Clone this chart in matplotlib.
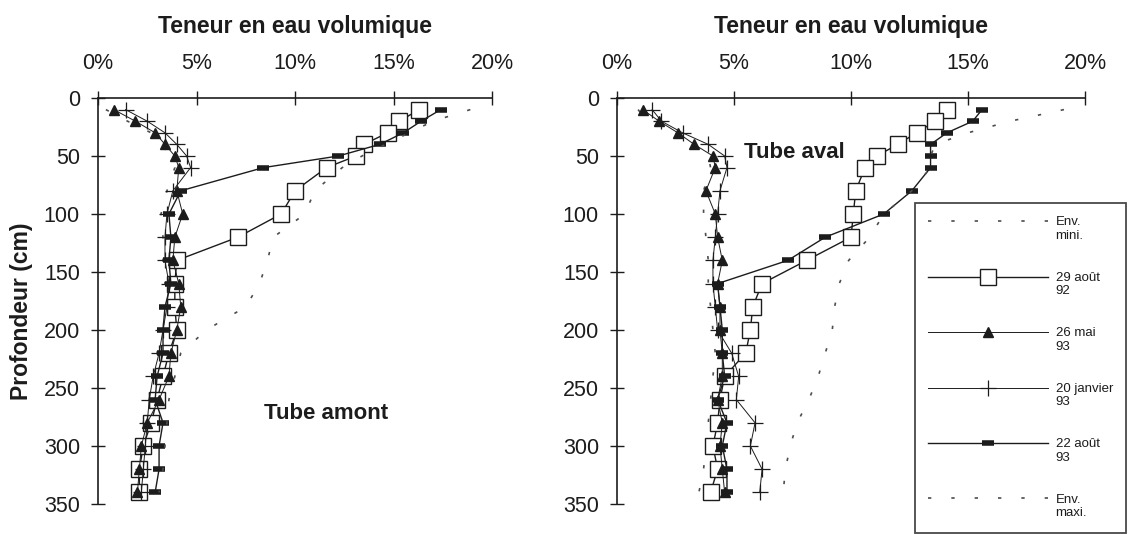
import numpy as np
import matplotlib
matplotlib.use('Agg')
import matplotlib.pyplot as plt
from matplotlib.lines import Line2D
from matplotlib.legend_handler import HandlerLine2D

plt.rcParams['font.family'] = ['Liberation Sans', 'DejaVu Sans']

# profondeurs de mesure (cm)
prof = [10, 20, 30, 40, 50, 60, 80, 100, 120, 140, 160, 180, 200, 220, 240, 260, 280, 300, 320, 340]

# tube amont (teneur en eau, %)
am_mini = [0.4, 1.5, 2.7, 3.2, 3.7, 3.9, 3.5, 3.2, 3.3, 3.3, 3.4, 3.3, 3.1, 3.0, 2.8, 2.6, 2.3, 2.0, 2.0, 1.9]
am_aout92 = [16.3, 15.3, 14.7, 13.5, 13.1, 11.6, 10.0, 9.3, 7.1, 4.0, 3.9, 3.9, 4.0, 3.6, 3.3, 3.0, 2.7, 2.3, 2.1, 2.1]
am_mai93 = [0.8, 1.9, 2.9, 3.4, 3.9, 4.1, 4.0, 4.3, 3.9, 3.8, 4.1, 4.2, 4.0, 3.7, 3.6, 3.1, 2.5, 2.2, 2.1, 2.0]
am_janv93 = [1.4, 2.5, 3.4, 4.0, 4.5, 4.7, 3.8, 3.5, 3.4, 3.4, 3.6, 3.5, 3.3, 3.1, 2.8, 2.6, 2.5, 2.4, 2.3, 2.2]
am_aout93 = [17.4, 16.4, 15.5, 14.3, 12.2, 8.4, 4.2, 3.6, 3.7, 3.6, 3.7, 3.4, 3.3, 3.3, 3.0, 2.9, 3.3, 3.1, 3.1, 2.9]
am_maxi = [18.9, 17.0, 15.8, 14.6, 13.4, 12.4, 11.0, 10.5, 8.9, 8.6, 8.2, 7.5, 5.5, 4.2, 3.9, 3.6, 3.5, 3.4, 3.3, 3.1]

# tube aval
av_mini = [0.9, 1.3, 2.3, 3.2, 3.9, 4.0, 3.7, 3.7, 3.8, 3.9, 3.9, 4.0, 4.1, 4.2, 4.1, 4.0, 3.9, 3.8, 3.7, 3.5]
av_aout92 = [14.1, 13.6, 12.8, 12.0, 11.1, 10.6, 10.2, 10.1, 10.0, 8.1, 6.2, 5.8, 5.7, 5.5, 4.6, 4.4, 4.3, 4.1, 4.3, 4.0]
av_mai93 = [1.1, 1.8, 2.6, 3.3, 4.1, 4.2, 3.8, 4.2, 4.3, 4.5, 4.3, 4.4, 4.4, 4.5, 4.5, 4.3, 4.5, 4.4, 4.5, 4.6]
av_janv93 = [1.5, 1.9, 2.8, 3.9, 4.6, 4.7, 4.4, 4.3, 4.2, 4.1, 4.1, 4.2, 4.3, 4.9, 5.2, 5.1, 5.9, 5.7, 6.2, 6.1]
av_aout93 = [15.6, 15.2, 14.1, 13.4, 13.4, 13.4, 12.6, 11.4, 8.9, 7.3, 4.3, 4.4, 4.5, 4.5, 4.6, 4.3, 4.7, 4.5, 4.7, 4.7]
av_maxi = [19.1, 16.8, 15.0, 13.6, 13.4, 13.4, 12.6, 11.4, 10.8, 9.9, 9.5, 9.3, 9.2, 8.9, 8.6, 8.2, 7.7, 7.4, 7.2, 7.1]

labels = ['Env.\nmini.', '29 août\n92', '26 mai\n93', '20 janvier\n93', '22 août\n93', 'Env.\nmaxi.']
ticks_x = [0, 5, 10, 15, 20]
ticks_y = [0, 50, 100, 150, 200, 250, 300, 350]

ink = '#1c1c1c'
env_style = dict(color='0.3', lw=1.2, ls=(0, (2, 12)))


class FirstLineHandler(HandlerLine2D):
    # remonte le trait au niveau de la premiere ligne du libelle
    def __init__(self, shift, **kw):
        super().__init__(**kw)
        self.shift = shift

    def create_artists(self, legend, orig_handle, xdescent, ydescent,
                       width, height, fontsize, trans):
        return super().create_artists(legend, orig_handle, xdescent,
                                      ydescent - 2 * self.shift, width, height,
                                      fontsize, trans)


def trace(ax, series):
    mini, a92, m93, j93, a93, maxi = series
    ax.plot(mini, prof, **env_style)
    ax.plot(a92, prof, color=ink, lw=1.0, marker='s', ms=11, mfc='white', mec=ink, mew=1.0)
    ax.plot(m93, prof, color=ink, lw=0.7, marker='^', ms=7, mfc=ink, mec=ink)
    ax.plot(j93, prof, color=ink, lw=0.7, marker='+', ms=12, mew=0.9)
    ax.plot(a93, prof, color=ink, lw=1.0, marker='_', ms=9, mew=4, mec=ink)
    ax.plot(maxi, prof, **env_style)

    ax.set_xlim(0, 20)
    ax.set_ylim(350, 0)
    ax.xaxis.tick_top()
    ax.set_xticks(ticks_x)
    ax.set_xticklabels(['%d%%' % v for v in ticks_x])
    ax.set_yticks(ticks_y)
    ax.tick_params(axis='x', direction='inout', length=10, width=1.0, pad=12,
                   labelsize=15.5, colors=ink)
    ax.tick_params(axis='y', direction='inout', length=10, width=1.0, pad=8,
                   labelsize=15.5, colors=ink)
    for s in ['right', 'bottom']:
        ax.spines[s].set_visible(False)
    for s in ['top', 'left']:
        ax.spines[s].set_linewidth(1.2)
        ax.spines[s].set_color(ink)
    ax.text(0.5, 1 + 71 / 406, 'Teneur en eau volumique', transform=ax.transAxes,
            ha='center', va='center', fontsize=16.5, fontweight='bold', color=ink)


fig = plt.figure(figsize=(11.3, 5.34), dpi=100)
ax1 = fig.add_axes([98 / 1130, 1 - 504 / 534, 394 / 1130, 406 / 534])
ax2 = fig.add_axes([617 / 1130, 1 - 504 / 534, 468 / 1130, 406 / 534])

trace(ax1, [am_mini, am_aout92, am_mai93, am_janv93, am_aout93, am_maxi])
trace(ax2, [av_mini, av_aout92, av_mai93, av_janv93, av_aout93, av_maxi])

ax1.set_ylabel('Profondeur (cm)', fontsize=16.5, fontweight='bold', color=ink)
ax1.yaxis.set_label_coords(-(98 - 33) / 394, (504 - 311) / 406)

ax1.text(11.6, 272, 'Tube amont', ha='center', va='center', fontsize=16,
         fontweight='bold', color=ink)
ax2.text(7.6, 47, 'Tube aval', ha='center', va='center', fontsize=16,
         fontweight='bold', color=ink)

leg_fs = 9.5
leg = fig.legend(ax2.get_lines()[:6], labels, loc='upper left',
                 bbox_to_anchor=(915 / 1130, 1 - 203 / 534), fontsize=leg_fs,
                 handlelength=9.1, handletextpad=0.55, labelspacing=2.25,
                 borderpad=1.0, fancybox=False, numpoints=1, borderaxespad=0,
                 handler_map={Line2D: FirstLineHandler(0.6 * leg_fs)})
leg.get_frame().set_edgecolor(ink)
leg.get_frame().set_linewidth(1.3)
for t in leg.get_texts():
    t.set_color(ink)

fig.savefig('out.png', dpi=100)
